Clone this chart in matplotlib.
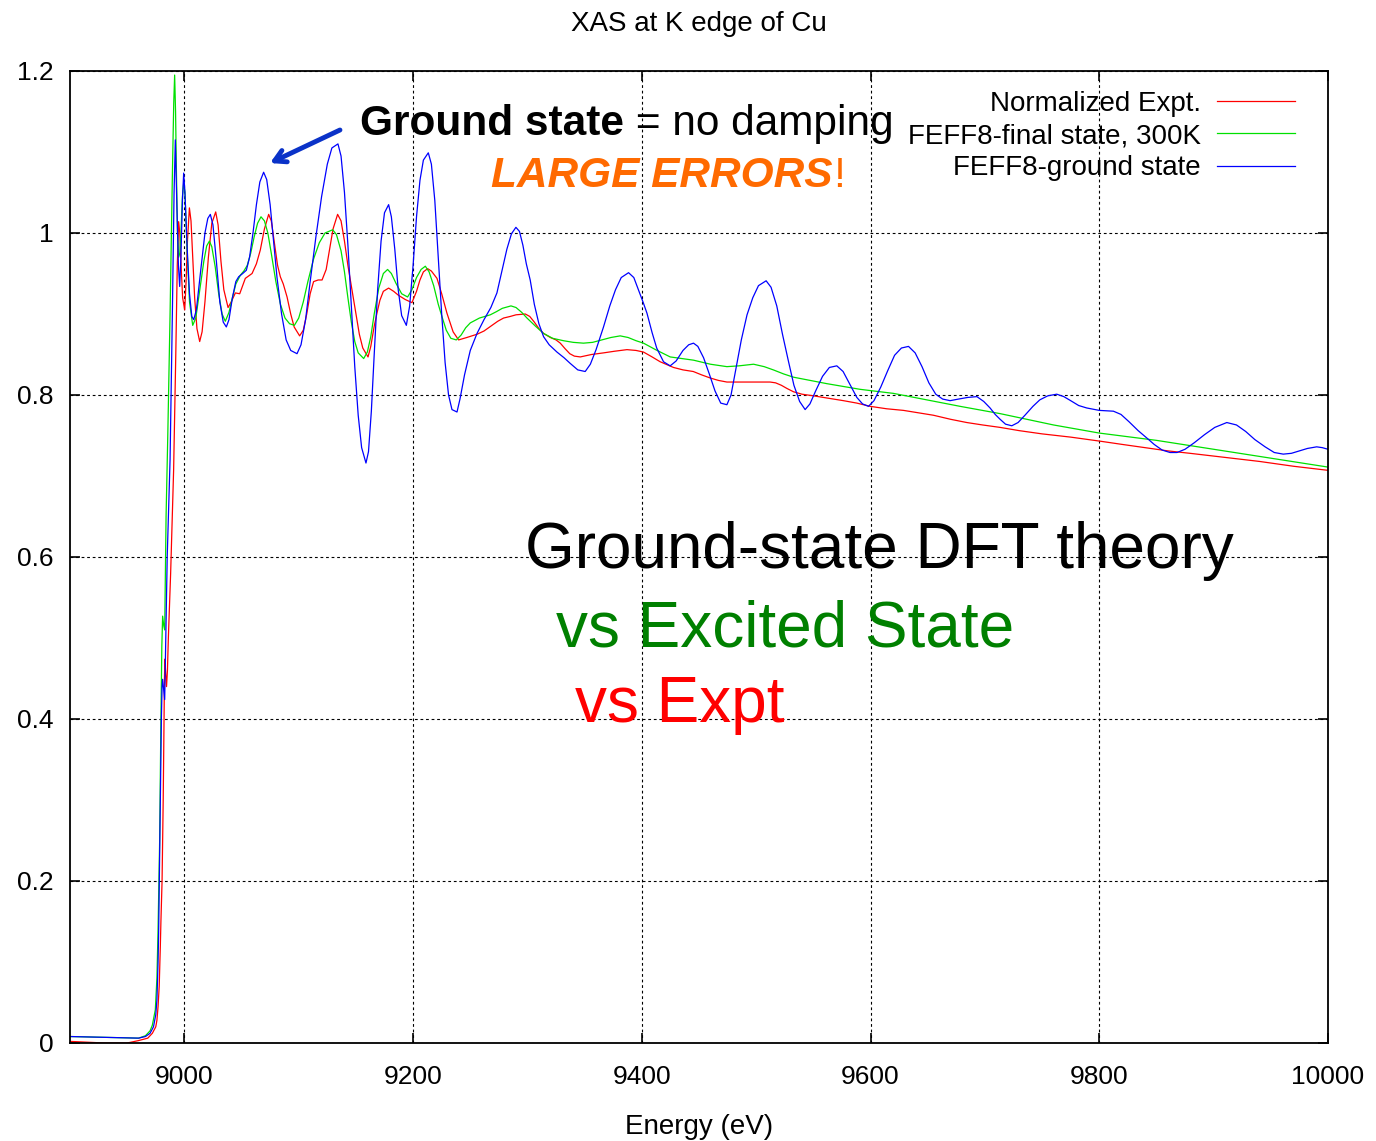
import matplotlib
matplotlib.use("Agg")
import matplotlib.pyplot as plt

# ---- data (energy in eV, normalized absorption) ----
expt_E = [8900, 8915, 8930, 8950, 8960, 8968, 8972, 8975, 8976, 8977, 8978, 8979, 8979.5,
          8980.5, 8981.5, 8982.2, 8982.6, 8983, 8983.7, 8984.4, 8985.2, 8986, 8988, 8990.6,
          8992.5, 8993.8, 8995, 8996, 8997.3, 8998.5, 9000.3, 9001.5, 9002.7, 9004.4,
          9005.8, 9007.5, 9009, 9011, 9013.4, 9015.5, 9018, 9021, 9024, 9027.4, 9029.5,
          9032, 9034.5, 9038.2, 9041, 9044.6, 9048.4, 9053.3, 9059.2, 9063, 9066.4, 9070,
          9073.7, 9076, 9079, 9081.5, 9083.9, 9086.5, 9089.8, 9093, 9096, 9100.8, 9104,
          9107, 9110, 9113, 9117, 9120.4, 9124, 9127, 9130, 9134, 9137, 9140, 9143, 9146.5,
          9150, 9153, 9156, 9160.6, 9163, 9166, 9168.4, 9171, 9174, 9178.6, 9183, 9187.3,
          9193, 9199, 9203, 9206, 9209, 9212.7, 9216, 9220.9, 9225, 9229.6, 9235, 9239.8,
          9247, 9255.9, 9262, 9268, 9274, 9279.1, 9285, 9290, 9298.1, 9302, 9306, 9310,
          9314.1, 9320, 9325, 9328.7, 9333, 9337, 9341, 9346.2, 9356, 9366.5, 9376, 9387,
          9395, 9401.5, 9409, 9416.1, 9427.7, 9436, 9445, 9452, 9459.8, 9467, 9474.4, 9490,
          9500, 9512.2, 9517, 9522, 9527, 9532.6, 9540, 9550, 9563, 9576.3, 9588, 9599.7,
          9614, 9628.8, 9642, 9655, 9670, 9684.2, 9698, 9713.3, 9730, 9750, 9775, 9800.7,
          9820, 9840, 9860, 9879.4, 9910, 9940, 9970, 10000]
expt_mu = [0.002, 0.001, 0.0, 0.0, 0.003, 0.006, 0.012, 0.02, 0.028, 0.045, 0.07, 0.12, 0.15,
           0.20, 0.30, 0.40, 0.45, 0.474, 0.455, 0.44, 0.46, 0.50, 0.58, 0.707,
           0.85, 0.96, 1.014, 1.0, 0.955, 0.92, 0.905, 0.94, 0.99, 1.031,
           1.015, 0.965, 0.92, 0.882, 0.866, 0.878, 0.915, 0.97, 1.012, 1.026, 1.01,
           0.965, 0.93, 0.908, 0.915, 0.926, 0.925, 0.944, 0.950, 0.962, 0.979, 1.005,
           1.023, 1.015, 0.985, 0.96, 0.946, 0.937, 0.921, 0.9, 0.884, 0.873, 0.88,
           0.9, 0.925, 0.940, 0.942, 0.942, 0.955, 0.98, 1.005, 1.023, 1.015, 0.99, 0.96, 0.93,
           0.9, 0.875, 0.858, 0.847, 0.86, 0.885, 0.901, 0.917, 0.928, 0.932, 0.928, 0.923,
           0.918, 0.914, 0.928, 0.942, 0.952, 0.956, 0.953, 0.944, 0.925, 0.901, 0.878, 0.868,
           0.871, 0.875, 0.879, 0.885, 0.891, 0.895, 0.897, 0.899, 0.900, 0.897, 0.89, 0.882,
           0.876, 0.871, 0.868, 0.864, 0.857, 0.851, 0.848, 0.847, 0.85, 0.852, 0.854, 0.856,
           0.855, 0.853, 0.847, 0.841, 0.834, 0.831, 0.829, 0.825, 0.821, 0.818, 0.816, 0.816,
           0.816, 0.816, 0.815, 0.812, 0.808, 0.804, 0.801, 0.799, 0.796, 0.793, 0.79, 0.786,
           0.783, 0.781, 0.778, 0.775, 0.77, 0.766, 0.763, 0.760, 0.756, 0.752, 0.748, 0.743,
           0.739, 0.735, 0.731, 0.728, 0.723, 0.718, 0.712, 0.707]

final_E = [8900, 8960, 8966, 8970, 8972, 8974.6, 8976, 8977, 8977.5, 8978.4, 8979.5, 8980.3,
           8981, 8982, 8982.8, 8984, 8985.5, 8987.5, 8989.5, 8990.7, 8991.5, 8992.3, 8993,
           8994, 8995, 8996, 8997, 8998.3, 8999.4, 9000.5, 9002.5, 9004.5, 9007.3, 9010,
           9013, 9017, 9019.5, 9021.9, 9024, 9027, 9030, 9033, 9035.8, 9039, 9042, 9045,
           9049, 9052, 9055, 9058, 9061, 9064, 9067, 9070, 9073, 9076, 9080, 9084, 9088,
           9092, 9096.2, 9100, 9104, 9108, 9113, 9118, 9123, 9129.7, 9133, 9137, 9140, 9143,
           9146, 9149, 9152, 9156.8, 9160, 9163, 9166, 9170, 9174, 9177.7, 9181, 9185, 9190,
           9195.2, 9199, 9203, 9207, 9210.7, 9214, 9218, 9222, 9225.2, 9229, 9233, 9237.8,
           9242, 9246, 9250, 9258, 9267.5, 9273, 9278, 9285.6, 9290, 9295, 9299.6, 9307,
           9314.1, 9322, 9331.6, 9340, 9349, 9357, 9365, 9373, 9381.1, 9388, 9395, 9401.5,
           9412, 9424.8, 9435, 9445.2, 9460, 9474.4, 9485, 9497.7, 9507, 9515, 9524, 9532.6,
           9547, 9561.8, 9590.9, 9620, 9649.2, 9678.3, 9713.3, 9760, 9800, 9850, 9900, 9950,
           10000]
final_mu = [0.008, 0.006, 0.009, 0.015, 0.022, 0.041, 0.08, 0.14, 0.177, 0.25, 0.40, 0.49,
            0.527, 0.515, 0.51, 0.65, 0.75, 0.90, 1.07, 1.16, 1.195, 1.15, 1.08,
            1.0, 0.97, 0.975, 1.00, 1.045, 1.062, 1.05, 0.975, 0.915, 0.886, 0.895,
            0.925, 0.965, 0.984, 0.990, 0.983, 0.958, 0.925, 0.9, 0.891, 0.902, 0.92, 0.937,
            0.948, 0.953, 0.96, 0.975, 0.995, 1.012, 1.020, 1.015, 1.0, 0.975, 0.94, 0.912, 0.895,
            0.888, 0.886, 0.895, 0.915, 0.94, 0.968, 0.988, 1.0, 1.004, 0.998, 0.978, 0.952, 0.92,
            0.89, 0.866, 0.852, 0.845, 0.853, 0.872, 0.9, 0.932, 0.95, 0.955, 0.95, 0.938, 0.925,
            0.921, 0.93, 0.945, 0.955, 0.959, 0.952, 0.935, 0.912, 0.897, 0.88, 0.87, 0.868,
            0.874, 0.883, 0.889, 0.895, 0.899, 0.903, 0.907, 0.910, 0.908, 0.902, 0.895, 0.885,
            0.876, 0.87, 0.867, 0.865, 0.864, 0.865, 0.868, 0.871, 0.873, 0.871, 0.867, 0.864,
            0.856, 0.847, 0.845, 0.843, 0.838, 0.835, 0.836, 0.838, 0.835, 0.831, 0.826, 0.822,
            0.818, 0.814, 0.807, 0.802, 0.794, 0.786, 0.777, 0.763, 0.753, 0.744, 0.733, 0.722,
            0.711]

ground_E = [8900, 8930, 8960, 8966, 8970, 8973, 8975, 8976, 8977, 8977.5, 8978.5, 8979.9,
            8980.5, 8981, 8982, 8982.8, 8984, 8985, 8987.5, 8989.5, 8991, 8992.1, 8993.5,
            8994.8, 8995.9, 8997, 8998.3, 8999.4, 9000.5, 9002.5, 9004.5, 9006.5, 9008.2,
            9010.5, 9014, 9018, 9020.5, 9022.7, 9025, 9028, 9031, 9034, 9036.7, 9039, 9042,
            9045, 9047.5, 9051, 9054.2, 9057, 9060, 9063, 9066, 9069.3, 9072, 9075, 9078,
            9081, 9085, 9089, 9093, 9098.5, 9102, 9106, 9110, 9115, 9120, 9125, 9129, 9134.3,
            9137, 9140, 9143, 9146, 9149, 9152, 9155, 9158.8, 9161, 9163.5, 9166, 9169, 9172,
            9175, 9178.6, 9181, 9184, 9187, 9190, 9194.1, 9197, 9200, 9203, 9206, 9209,
            9213.3, 9216, 9219, 9222, 9225, 9228, 9231, 9234, 9238.4, 9241, 9245, 9250,
            9255.9, 9262, 9268, 9273.3, 9278, 9282, 9286, 9289.9, 9293, 9296, 9299, 9302.4,
            9306, 9310, 9314.1, 9319, 9325.8, 9332, 9337.4, 9344, 9350.5, 9355, 9360, 9366.5,
            9372, 9377, 9382, 9388.4, 9393, 9397, 9401, 9404.5, 9409, 9413, 9419, 9424.8,
            9430, 9436, 9441, 9445.2, 9449, 9454, 9459, 9464, 9469, 9474.4, 9478, 9482, 9487,
            9492, 9497, 9502, 9508.7, 9513, 9518, 9523, 9528, 9533, 9538, 9542.8, 9547, 9552,
            9558, 9564, 9570.5, 9576, 9582, 9588, 9593, 9598.2, 9603, 9609, 9615, 9621, 9627,
            9633.2, 9639, 9645, 9651, 9657, 9663, 9669.6, 9677, 9685, 9693, 9699, 9704.5,
            9709, 9713.3, 9718, 9723.5, 9729, 9735, 9742, 9748, 9755, 9762.8, 9769, 9775,
            9782, 9789, 9800, 9812.4, 9819, 9826, 9834, 9841.5, 9848, 9855, 9861.9, 9868,
            9875, 9883, 9892, 9901, 9911.5, 9920, 9928, 9936, 9945, 9953, 9960.9, 9968, 9975,
            9982, 9990.1, 9995, 10000]
ground_mu = [0.008, 0.007, 0.006, 0.008, 0.012, 0.020, 0.035, 0.053, 0.10, 0.136, 0.25, 0.40,
             0.44, 0.449, 0.435, 0.424, 0.52, 0.60, 0.72, 0.90, 1.05, 1.115, 1.03,
             0.96, 0.934, 0.97, 1.04, 1.074, 1.05, 0.98, 0.925, 0.897, 0.893,
             0.905, 0.95, 1.00, 1.018, 1.023, 1.01, 0.965, 0.915, 0.89, 0.884, 0.893, 0.92,
             0.94, 0.946, 0.95, 0.954, 0.97, 1.00, 1.035, 1.063, 1.075, 1.066, 1.035, 0.99,
             0.945, 0.90, 0.868, 0.855, 0.851, 0.862, 0.893, 0.94, 0.995, 1.045, 1.085, 1.105,
             1.110, 1.095, 1.05, 0.985, 0.91, 0.835, 0.775, 0.735, 0.716, 0.73, 0.78, 0.85,
             0.93, 0.99, 1.025, 1.035, 1.02, 0.98, 0.93, 0.898, 0.886, 0.91, 0.96, 1.02, 1.065,
             1.09, 1.099, 1.085, 1.04, 0.97, 0.90, 0.84, 0.80, 0.782, 0.779, 0.795, 0.825,
             0.855, 0.876, 0.893, 0.908, 0.926, 0.955, 0.98, 0.999, 1.007, 1.002, 0.985, 0.962,
             0.942, 0.912, 0.888, 0.872, 0.862, 0.853, 0.846, 0.839, 0.831, 0.829, 0.838, 0.856,
             0.884, 0.91, 0.93, 0.945, 0.951, 0.945, 0.93, 0.915, 0.901, 0.877, 0.858, 0.841,
             0.836, 0.842, 0.855, 0.862, 0.864, 0.86, 0.846, 0.826, 0.805, 0.79, 0.788, 0.80,
             0.83, 0.868, 0.899, 0.92, 0.935, 0.941, 0.933, 0.91, 0.875, 0.843, 0.812, 0.792,
             0.782, 0.789, 0.805, 0.823, 0.834, 0.836, 0.829, 0.813, 0.797, 0.789, 0.786, 0.793,
             0.81, 0.83, 0.849, 0.858, 0.860, 0.852, 0.835, 0.815, 0.801, 0.795, 0.793, 0.795,
             0.797, 0.798, 0.792, 0.784, 0.776, 0.770, 0.764, 0.762, 0.766, 0.775, 0.786,
             0.794, 0.799, 0.801, 0.798, 0.793, 0.787, 0.784, 0.781, 0.780, 0.776, 0.767,
             0.756, 0.747, 0.739, 0.732, 0.729, 0.729, 0.733, 0.741, 0.751, 0.76, 0.766, 0.763,
             0.755, 0.745, 0.736, 0.729, 0.727, 0.728, 0.731, 0.734, 0.736, 0.735, 0.733]

labels = ["Normalized Expt.", "FEFF8-final state, 300K", "FEFF8-ground state"]
colors = ["#ff0000", "#00e000", "#0000ff"]
x_ticks = [9000, 9200, 9400, 9600, 9800, 10000]
y_ticks = [0, 0.2, 0.4, 0.6, 0.8, 1.0, 1.2]
y_ticklabels = ["0", "0.2", "0.4", "0.6", "0.8", "1", "1.2"]

font = ["Liberation Sans", "DejaVu Sans"]

fig = plt.figure(figsize=(13.76, 11.41), dpi=100)
ax = fig.add_axes([70 / 1376, 98 / 1141, 1258 / 1376, 972 / 1141])

for E, mu, lab, c in zip([expt_E, final_E, ground_E], [expt_mu, final_mu, ground_mu],
                         labels, colors):
    ax.plot(E, mu, color=c, lw=0.9, label=lab)

ax.set_xlim(8900, 10000)
ax.set_ylim(0, 1.2)
ax.set_xticks(x_ticks)
ax.set_yticks(y_ticks)
ax.set_yticklabels(y_ticklabels)
ax.grid(True, color="black", lw=0.8, ls=(0, (2.5, 2.5)))
ax.set_axisbelow(True)
ax.tick_params(direction="in", length=7, width=1.2, top=True, right=True, labelsize=19)
ax.tick_params(axis="x", pad=16)
ax.tick_params(axis="y", pad=12)
for lbl in ax.get_xticklabels() + ax.get_yticklabels():
    lbl.set_family(font)
for s in ax.spines.values():
    s.set_linewidth(1.3)

ax.set_title("XAS at K edge of Cu", family=font, fontsize=20, pad=29)
ax.set_xlabel("Energy (eV)", family=font, fontsize=20, labelpad=18)

leg = ax.legend(loc="upper right", bbox_to_anchor=(0.9738, 0.9794), frameon=False,
                markerfirst=False, handlelength=2.8, handletextpad=0.6,
                labelspacing=0.22, borderpad=0, borderaxespad=0,
                prop={"family": font, "size": 20})

# annotations
t1 = ax.text(0.2308, 0.9342, "Ground state", transform=ax.transAxes, family=font,
             fontsize=30.5, fontweight="bold", va="baseline", ha="left")
ax.annotate(" = no damping", xy=(1, 0), xycoords=t1, family=font, fontsize=30.5,
            va="bottom", ha="left")
t2 = ax.text(0.3350, 0.8810, "LARGE ERRORS", transform=ax.transAxes, family=font,
             fontsize=30.5, fontweight="bold", style="italic", color="#ff6a00",
             va="baseline", ha="left")
ax.annotate("!", xy=(1, 0), xycoords=t2, family=font, fontsize=30.5,
            color="#ff6a00", va="bottom", ha="left")
ax.annotate("", xy=(0.1590, 0.9053), xytext=(0.2146, 0.9393),
            xycoords="axes fraction", textcoords="axes fraction",
            arrowprops=dict(arrowstyle="->,head_length=0.8,head_width=0.45",
                            color="#0a32c8", lw=3.5, shrinkA=0, shrinkB=0))

ax.text(0.3617, 0.4887, "Ground-state DFT theory", transform=ax.transAxes,
        family=font, fontsize=46, va="baseline", ha="left")
ax.text(0.3863, 0.4077, "vs Excited State", transform=ax.transAxes,
        family=font, fontsize=46, color="#008000", va="baseline", ha="left")
ax.text(0.4014, 0.3306, "vs Expt", transform=ax.transAxes,
        family=font, fontsize=46, color="#ff0000", va="baseline", ha="left")

fig.savefig("out.png", dpi=100)
